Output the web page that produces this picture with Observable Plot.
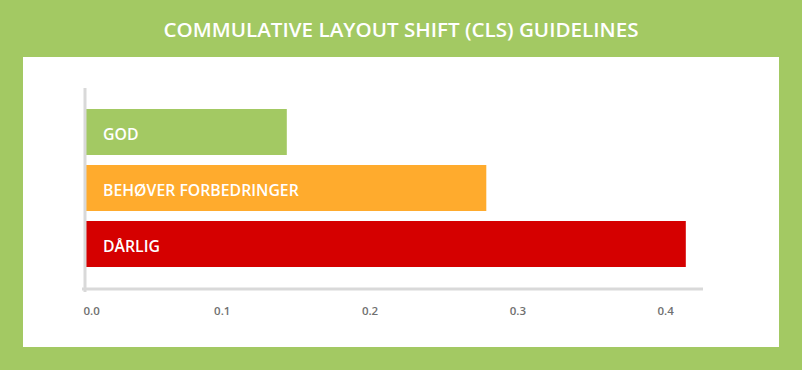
<!DOCTYPE html>
<html>
<head>
<meta charset="utf-8">
<script src="https://cdn.jsdelivr.net/npm/d3@7"></script>
<script src="https://cdn.jsdelivr.net/npm/@observablehq/plot@0.6"></script>
<style>
  html, body { margin: 0; padding: 0; }
  #wrap { position: relative; width: 802px; height: 370px; background: #a3c963; overflow: hidden; font-family: "Open Sans", sans-serif; }
  #title { position: absolute; left: 0; top: 0; width: 802px; height: 57px; line-height: 58px; text-align: center; color: #fff; font-size: 20.6px; font-weight: 600; letter-spacing: 0px; }
  #panel { position: absolute; left: 23px; top: 57px; width: 756px; height: 290px; background: #fff; }
  #panel svg { display: block; }
</style>
</head>
<body>
<div id="wrap">
  <div id="title">COMMULATIVE LAYOUT SHIFT (CLS) GUIDELINES</div>
  <div id="panel"></div>
</div>
<script>
const categories = ["GOD", "BEHØVER FORBEDRINGER", "DÅRLIG"];
const values = [0.144, 0.279, 0.414];
const colors = ["#a3c963", "#ffab2d", "#d50000"];
const tickValues = [0.0, 0.1, 0.2, 0.3, 0.4];
const tickLabels = ["0.0", "0.1", "0.2", "0.3", "0.4"];

const data = categories.map((c, i) => ({category: c, value: values[i], color: colors[i]}));
const ticks = tickValues.map((v, i) => ({value: v, label: tickLabels[i], first: i === 0}));

const chart = Plot.plot({
  width: 756,
  height: 290,
  marginLeft: 51,
  marginRight: 40,
  marginTop: 47,
  marginBottom: 74.5,
  style: {background: "transparent", fontFamily: "'Open Sans', sans-serif"},
  x: {domain: [0, 0.45], axis: null},
  y: {domain: categories, axis: null, padding: 0.17, paddingOuter: 0.085},
  marks: [
    Plot.barX(data, {x1: 0, x2: "value", y: "category", fill: "color", insetLeft: 12}),
    Plot.text(data, {x: 0, y: "category", text: "category", textAnchor: "start", dx: 28.5, dy: 2, fill: "#fff", fontSize: 15.8, fontWeight: 600}),
    Plot.frame({anchor: "left", stroke: "#d9d9d9", strokeWidth: 3, insetLeft: 10.5, insetTop: -15, insetBottom: -17.5}),
    Plot.frame({anchor: "bottom", stroke: "#d9d9d9", strokeWidth: 3, insetLeft: 9, insetRight: 38, insetBottom: -16}),
    Plot.text(ticks.filter(d => !d.first), {x: "value", text: "label", frameAnchor: "bottom", dy: 42, fill: "#707070", fontSize: 11.5, fontWeight: 600}),
    Plot.text(ticks.filter(d => d.first), {x: "value", text: "label", frameAnchor: "bottom", dy: 42, dx: 9, textAnchor: "start", fill: "#707070", fontSize: 11.5, fontWeight: 600})
  ]
});
document.getElementById("panel").appendChild(chart);
</script>
</body>
</html>
